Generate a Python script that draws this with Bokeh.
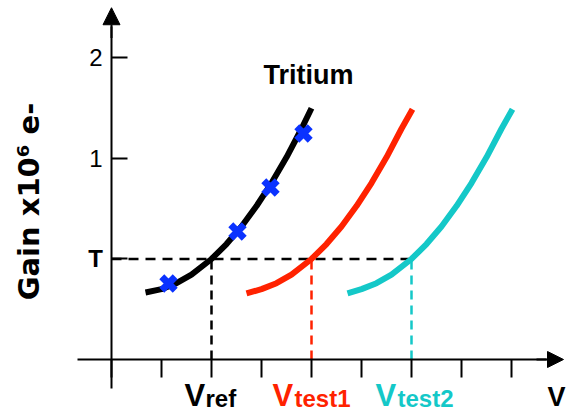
from bokeh.plotting import figure
from bokeh.models import LinearAxis, FixedTicker, Range1d, Arrow, NormalHead
from bokeh.core.properties import value
from bokeh.embed import file_html
from bokeh.resources import INLINE
import math

# ---- data ----
ref_x = [0.68, 1.0, 1.3, 1.6, 2.0, 2.3, 2.6, 2.9, 3.2, 3.5, 3.8, 4.0]
ref_y = [0.667, 0.700, 0.759, 0.844, 1.000, 1.149, 1.324, 1.527, 1.756, 2.012, 2.296, 2.500]
test1_x = [2.70, 3.0, 3.3, 3.6, 4.0, 4.3, 4.6, 4.9, 5.2, 5.5, 5.8, 6.02]
test1_y = [0.657, 0.700, 0.759, 0.844, 1.000, 1.149, 1.324, 1.527, 1.756, 2.012, 2.296, 2.490]
test2_x = [4.72, 5.0, 5.3, 5.6, 6.0, 6.3, 6.6, 6.9, 7.2, 7.5, 7.8, 8.02]
test2_y = [0.657, 0.700, 0.759, 0.844, 1.000, 1.149, 1.324, 1.527, 1.756, 2.012, 2.296, 2.490]
tritium_x = [1.14, 2.52, 3.18, 3.84]
tritium_y = [0.756, 1.274, 1.711, 2.249]
threshold_T = 1.0
v_points = [2.0, 4.0, 6.0]
x_ticks = [0, 1, 2, 3, 4, 5, 6, 7, 8]
y_ticks = [1, 2, 3]
y_tick_labels = ["T", "1", "2"]
v_big = ["V", "V", "V"]
v_small = ["ref", "test1", "test2"]

BLACK = "#000000"
RED = "#ff2200"
CYAN = "#14c8c8"
BLUE = "#0a32ff"
colors = [BLACK, RED, CYAN]

p = figure(width=569, height=414,
           x_range=Range1d(-2.22, 9.16), y_range=Range1d(-0.5473, 3.5721),
           x_axis_type=None, y_axis_type=None,
           toolbar_location=None, output_backend="svg", min_border=0)
p.outline_line_color = None
p.background_fill_color = "white"

# axes
xaxis = LinearAxis(fixed_location=0, bounds=(-0.68, 8.7),
                   ticker=FixedTicker(ticks=x_ticks),
                   major_tick_out=18, major_tick_in=0,
                   minor_tick_line_color=None,
                   major_label_overrides={t: "" for t in x_ticks},
                   axis_line_width=2, major_tick_line_width=2)
p.add_layout(xaxis, "below")

yaxis = LinearAxis(fixed_location=0, bounds=(-0.29, 3.31),
                   ticker=FixedTicker(ticks=y_ticks),
                   major_tick_in=16, major_tick_out=0,
                   minor_tick_line_color=None,
                   major_label_overrides={y_ticks[0]: "", y_ticks[1]: y_tick_labels[1], y_ticks[2]: y_tick_labels[2]},
                   major_label_text_font="Liberation Sans",
                   major_label_text_font_size="24px",
                   major_label_text_color="black",
                   major_label_standoff=9,
                   axis_line_width=2, major_tick_line_width=2)
p.add_layout(yaxis, "left")

p.add_layout(Arrow(end=NormalHead(size=17, fill_color="black", line_color="black", line_width=1),
                   x_start=0, y_start=3.2, x_end=0, y_end=3.50, line_width=2))
p.add_layout(Arrow(end=NormalHead(size=16, fill_color="black", line_color="black", line_width=1),
                   x_start=8.5, y_start=0, x_end=9.04, y_end=0, line_width=2))

# bold T tick label
p.text(x=[-0.17], y=[y_ticks[0]], text=[y_tick_labels[0]],
       text_font=value("Liberation Sans"), text_font_style="bold",
       text_font_size="24px", text_align="right", text_baseline="middle",
       text_color="black")

# threshold dashed lines
p.line(x=[0, v_points[2]], y=[threshold_T, threshold_T], line_color=BLACK,
       line_width=2.5, line_dash="10 7")
for vx, c in zip(v_points, colors):
    p.line(x=[vx, vx], y=[0, threshold_T], line_color=c, line_width=2.5, line_dash="9 6")

# curves
p.line(ref_x, ref_y, line_color=BLACK, line_width=6)
p.line(test1_x, test1_y, line_color=RED, line_width=6)
p.line(test2_x, test2_y, line_color=CYAN, line_width=6)

# tritium markers
p.scatter(tritium_x, tritium_y, marker="x", size=19, line_color=BLUE, line_width=7)

# Tritium label
p.text(x=[3.04], y=[2.826], text=["Tritium"], text_font=value("Liberation Sans"),
       text_font_style="bold", text_font_size="27px", text_align="left",
       text_baseline="middle", text_color="black")

# x labels (baselines aligned)
p.text(x=[1.46, 3.22, 5.28], y=[-0.361] * 3, text=v_big, text_color=colors,
       text_font=value("Liberation Sans"), text_font_style="bold",
       text_font_size="31px", text_align="left", text_baseline="middle")
p.text(x=[1.88, 3.66, 5.72], y=[-0.385] * 3, text=v_small, text_color=colors,
       text_font=value("Liberation Sans"), text_font_style="bold",
       text_font_size="24px", text_align="left", text_baseline="middle")
p.text(x=[9.08], y=[-0.374], text=["V"], text_color="black",
       text_font=value("Liberation Sans"), text_font_style="bold",
       text_font_size="27px", text_align="right", text_baseline="middle")

# y axis title
p.text(x=[-1.66], y=[1.572], text=["Gain x10\u2076 e-"], angle=math.pi / 2,
       text_font=value("DejaVu Sans"), text_font_style="bold",
       text_font_size="29px", text_align="center", text_baseline="middle",
       text_color="black")

open("out.html", "w").write(file_html(p, INLINE))
